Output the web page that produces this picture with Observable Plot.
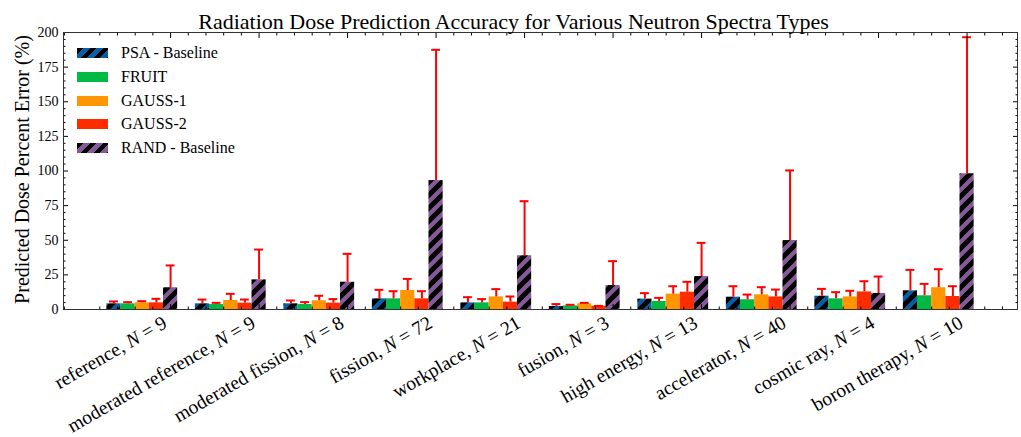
<!DOCTYPE html>
<html>
<head>
<meta charset="utf-8">
<script src="https://cdn.jsdelivr.net/npm/d3@7"></script>
<script src="https://cdn.jsdelivr.net/npm/@observablehq/plot@0.6"></script>
<style>
  body { margin: 0; background: #fff; }
  #chart { position: relative; width: 1021px; height: 437px; font-family: "Liberation Serif", serif; color: #000; }
  .legend-item { position: absolute; left: 77px; height: 24px; display: flex; align-items: center; font-size: 16px; white-space: nowrap; }
  .swatch { width: 31px; height: 10px; margin-right: 13px; }
</style>
</head>
<body>
<div id="chart"></div>
<script>
// Spectrum categories and the number of spectra in each
const categories = ["reference", "moderated reference", "moderated fission", "fission", "workplace",
                    "fusion", "high energy", "accelerator", "cosmic ray", "boron therapy"];
const counts = [9, 9, 8, 72, 21, 3, 13, 40, 4, 10];

// Series names and colours
const seriesNames = ["PSA - Baseline", "FRUIT", "GAUSS-1", "GAUSS-2", "RAND - Baseline"];
const seriesColors = ["#0C5DA5", "#00B945", "#FF9500", "#FF2C00", "#845B97"];
const seriesHatched = [true, false, false, false, true];

// Mean predicted dose percent error (%) per category
const psa    = [4.1, 4.1, 4.1, 7.7, 4.8, 2.2, 7.5, 8.9, 9.6, 13.5];
const fruit  = [4.1, 3.6, 3.6, 7.7, 4.8, 2.6, 5.8, 7.0, 7.7, 9.9];
const gauss1 = [4.8, 6.5, 6.3, 13.7, 9.1, 4.1, 11.1, 10.6, 9.1, 15.7];
const gauss2 = [4.8, 4.6, 4.6, 7.7, 5.3, 2.4, 12.5, 9.1, 12.7, 9.4];
const rand   = [15.7, 21.4, 19.7, 93.1, 38.8, 17.3, 23.8, 49.8, 11.6, 98.0];

// Upper error (standard deviation, %) per category
const psaErr    = [1.7, 3.1, 2.4, 6.5, 4.1, 1.7, 4.3, 7.9, 5.3, 15.1];
const fruitErr  = [1.2, 1.2, 1.7, 5.5, 2.7, 0.8, 2.6, 3.8, 4.8, 8.6];
const gauss1Err = [1.2, 4.8, 3.6, 8.4, 5.6, 0.7, 5.7, 5.5, 4.4, 13.4];
const gauss2Err = [2.9, 2.6, 2.9, 5.5, 4.1, 0.2, 7.5, 5.3, 7.7, 7.4];
const randErr   = [16.1, 21.9, 20.5, 94.4, 39.4, 17.6, 24.3, 50.6, 12.2, 98.6];

const yTicks = d3.range(0, 201, 25);

const values = [psa, fruit, gauss1, gauss2, rand];
const errors = [psaErr, fruitErr, gauss1Err, gauss2Err, randErr];

// Grouped bars: group i sits at x = i, the five series step left of it
const barWidth = 0.16;
const rows = [];
values.forEach((vals, j) => vals.forEach((v, i) => {
  const x1 = i + (j - 4.5) * barWidth;
  rows.push({i, j, value: v, err: errors[j][i], x1, x2: x1 + barWidth, xc: x1 + barWidth / 2});
}));

const labels = categories.map((c, i) => ({i, label: `${c}, N = ${counts[i]}`}));
const majorX = d3.range(0, 10);
const minorX = d3.range(-6, 48).filter(k => k % 5 !== 0).map(k => k / 5);
const minorY = d3.range(0, 201, 5).filter(v => v % 25 !== 0);

const font = "Liberation Serif";
const fillFor = j => seriesHatched[j] ? `url(#hatch-${j})` : seriesColors[j];

const svg = Plot.plot({
  width: 1021,
  height: 437,
  marginLeft: 63,
  marginRight: 4,
  marginTop: 32,
  marginBottom: 128,
  style: {fontFamily: font, background: "#fff", color: "#000"},
  x: {domain: [-1.21, 9.57], axis: null},
  y: {domain: [0, 200], axis: null},
  marks: [
    ...seriesNames.map((_, j) => Plot.rect(rows.filter(d => d.j === j), {
      x1: "x1", x2: "x2", y1: 0, y2: "value", fill: fillFor(j)
    })),
    Plot.ruleX(rows, {x: "xc", y1: "value", y2: d => d.value + d.err, stroke: "#ff0000", strokeWidth: 2}),
    Plot.ruleY(rows, {y: d => d.value + d.err, x1: d => d.xc - 0.05, x2: d => d.xc + 0.05, stroke: "#ff0000", strokeWidth: 2}),
    // inward ticks on all four sides
    Plot.axisY(yTicks, {anchor: "left", tickSize: -5, tickPadding: 10, fontSize: 14, label: null}),
    Plot.axisY(minorY, {anchor: "left", tickSize: -2.5, fill: "none", label: null}),
    Plot.axisY(yTicks, {anchor: "right", tickSize: -5, fill: "none", label: null}),
    Plot.axisY(minorY, {anchor: "right", tickSize: -2.5, fill: "none", label: null}),
    Plot.axisX(majorX, {anchor: "top", tickSize: -5, fill: "none", label: null}),
    Plot.axisX(minorX, {anchor: "top", tickSize: -2.5, fill: "none", label: null}),
    Plot.axisX(majorX, {anchor: "bottom", tickSize: -5, fill: "none", label: null}),
    Plot.axisX(minorX, {anchor: "bottom", tickSize: -2.5, fill: "none", label: null}),
    Plot.frame({stroke: "#333"}),
    // category labels
    Plot.text(labels, {x: "i", text: "label", frameAnchor: "bottom", rotate: -30, textAnchor: "end",
      lineAnchor: "bottom", dx: -2.5, dy: 17, fontSize: 19.5, fontFamily: font}),
    // y-axis title
    Plot.text(["Predicted Dose Percent Error (%)"], {frameAnchor: "left", rotate: -90, textAnchor: "middle",
      lineAnchor: "bottom", dx: -35, dy: -1.5, fontSize: 20, fontFamily: font}),
    // chart title
    Plot.text(["Radiation Dose Prediction Accuracy for Various Neutron Spectra Types"], {frameAnchor: "top",
      textAnchor: "middle", lineAnchor: "bottom", dx: -27, dy: -4, fontSize: 22, fontFamily: font})
  ]
});

// hatch patterns for the baseline series
const defs = d3.select(svg).insert("defs", ":first-child");
seriesHatched.forEach((h, j) => {
  if (!h) return;
  const p = defs.append("pattern").attr("id", `hatch-${j}`)
    .attr("patternUnits", "userSpaceOnUse").attr("width", 13).attr("height", 13);
  p.append("rect").attr("width", 13).attr("height", 13).attr("fill", seriesColors[j]);
  p.append("path").attr("d", "M-6.5,6.5L6.5,-6.5M0,13L13,0M6.5,19.5L19.5,6.5")
    .attr("stroke", "#000").attr("stroke-width", 4.8);
});

// italic N in the category labels
d3.select(svg).selectAll("text").each(function () {
  const t = this.textContent;
  const m = t.match(/^(.*), N = (\d+)$/);
  if (m) {
    const sel = d3.select(this).text(null);
    sel.append("tspan").text(`${m[1]}, `);
    sel.append("tspan").attr("font-style", "italic").text("N");
    sel.append("tspan").text(` = ${m[2]}`);
  }
});

const chart = document.getElementById("chart");
chart.appendChild(svg);

// legend, upper left inside the plot frame
const legendCenters = [53, 77, 101, 124, 148];
seriesNames.forEach((name, j) => {
  const item = document.createElement("div");
  item.className = "legend-item";
  item.style.top = (legendCenters[j] - 12) + "px";
  const sw = document.createElement("div");
  sw.className = "swatch";
  sw.style.background = seriesHatched[j]
    ? `repeating-linear-gradient(135deg, #000 0 4.6px, ${seriesColors[j]} 4.6px 9.2px)`
    : seriesColors[j];
  const label = document.createElement("span");
  label.textContent = name;
  item.appendChild(sw);
  item.appendChild(label);
  chart.appendChild(item);
});
</script>
</body>
</html>
